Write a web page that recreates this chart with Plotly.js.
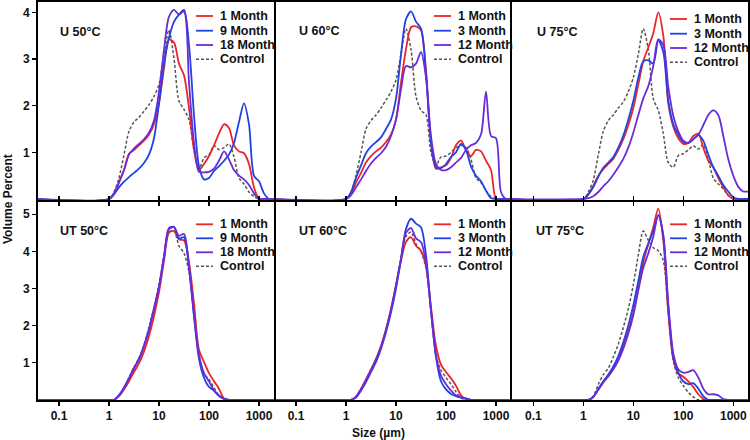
<!DOCTYPE html>
<html>
<head>
<meta charset="utf-8">
<script src="https://cdn.plot.ly/plotly-3.0.1.min.js"></script>
<style>html,body{margin:0;padding:0;background:#fff;}#chart{width:750px;height:440px;}</style>
</head>
<body>
<div id="chart"></div>
<script>
// Particle size (µm): 0.03, then 1 ... 2000 in 0.1-decade steps, then 2200
const sizes = [0.03, 1, 1.26, 1.58, 2, 2.51, 3.16, 3.98, 5.01, 6.31, 7.94,
  10, 12.6, 15.8, 20, 25.1, 31.6, 39.8, 50.1, 63.1, 79.4,
  100, 126, 158, 200, 251, 316, 398, 501, 631, 794,
  1000, 1259, 1585, 2000, 2200];

const panelTitles = ['U 50°C', 'U 60°C', 'U 75°C', 'UT 50°C', 'UT 60°C', 'UT 75°C'];
const seriesNames50 = ['1 Month', '9 Month', '18 Month', 'Control'];
const seriesNames6075 = ['1 Month', '3 Month', '12 Month', 'Control'];
const xTickVals = [0.1, 1, 10, 100, 1000];
const xTickText = ['0.1', '1', '10', '100', '1000'];
const yTicksTop = [1, 2, 3, 4];
const yTicksBottom = [1, 2, 3, 4, 5];

// Volume percent values
const u50_m1   = [0, 0,0.12,0.35,0.62,0.97,1.05,1.15,1.25,1.38,1.6, 2.05,2.8,3.42,3.35,2.9,2.65,1.95,1.05,0.62,0.75, 0.92,1.15,1.4,1.6,1.52,1.15,1.02,0.98,0.75,0.25, 0,0,0,0, 0];
const u50_m9   = [0, 0,0.1,0.25,0.37,0.47,0.56,0.65,0.77,0.95,1.3, 2.05,2.9,3.45,3.8,3.95,4.05,3.3,1.8,0.7,0.42, 0.45,0.6,0.7,0.82,0.95,1.2,1.65,2.05,1.6,0.5, 0.38,0.12,0,0, 0];
const u50_m18  = [0, 0,0.12,0.36,0.62,0.95,1.08,1.18,1.28,1.42,1.68, 2.3,3.2,3.9,4.05,3.95,4.02,2.5,1.2,0.58,0.57, 0.58,0.65,0.82,1.02,0.85,0.62,0.5,0.42,0.3,0.12, 0,0,0,0, 0];
const u50_ctrl = [0, 0,0.15,0.45,0.95,1.45,1.65,1.75,1.88,2.02,2.2, 2.45,3.1,3.62,3.0,2.1,1.92,1.7,1.05,0.65,0.88, 0.95,1.14,1.06,1.1,1.18,0.9,0.45,0.32,0.15,0.05, 0,0,0,0, 0];

const u60_m1   = [0, 0,0.12,0.35,0.56,0.78,0.92,1.02,1.1,1.22,1.38, 1.7,2.5,3.2,3.68,3.7,3.62,2.75,1.25,0.65,0.68, 0.72,0.88,1.15,1.25,1.05,0.92,1.05,1.02,0.82,0.62, 0,0,0,0, 0];
const u60_m3   = [0, 0,0.15,0.45,0.72,0.98,1.12,1.22,1.32,1.5,1.7, 2.15,3.1,3.85,4.02,3.8,3.65,2.7,1.2,0.68,0.66, 0.75,0.9,1.0,1.18,1.05,0.7,0.5,0.38,0.18,0.02, 0,0,0,0, 0];
const u60_m12  = [0, 0,0.08,0.25,0.42,0.6,0.76,0.88,0.98,1.12,1.35, 1.7,2.35,2.85,2.82,2.9,3.15,2.6,1.35,0.75,0.62, 0.62,0.68,0.78,0.88,1.05,1.15,1.2,1.38,2.3,1.35, 1.3,0.15,0,0, 0];
const u60_ctrl = [0, 0,0.15,0.5,1.0,1.5,1.68,1.8,1.95,2.12,2.3, 2.55,3.1,3.65,3.2,2.2,1.9,1.8,1.0,0.72,0.9, 0.92,1.0,1.1,1.15,1.1,0.85,0.45,0.35,0.18,0.05, 0,0,0,0, 0];

const u75_m1   = [0, 0,0.1,0.28,0.5,0.64,0.75,0.86,1.05,1.28,1.58, 1.95,2.45,2.95,3.25,3.55,4.0,3.5,2.05,1.55,1.3, 1.18,1.2,1.35,1.4,1.1,0.82,0.68,0.45,0.25,0.08, 0,0,0,0, 0];
const u75_m3   = [0, 0,0.1,0.25,0.48,0.67,0.78,0.9,1.1,1.36,1.7, 2.1,2.6,2.95,2.97,2.9,3.4,3.15,2.1,1.6,1.38, 1.22,1.2,1.28,1.37,1.25,0.95,0.68,0.5,0.3,0.16, 0.04,0,0,0, 0];
const u75_m12  = [0, 0,0.02,0.06,0.15,0.27,0.38,0.52,0.68,0.86,1.1, 1.42,1.8,2.15,2.42,2.85,3.42,3.3,2.4,1.78,1.45, 1.25,1.2,1.28,1.38,1.58,1.8,1.9,1.8,1.35,0.85, 0.5,0.26,0.16,0.16, 0.16];
const u75_ctrl = [0, 0,0.15,0.4,0.95,1.45,1.68,1.8,1.95,2.08,2.3, 2.6,3.1,3.65,3.2,2.15,1.9,1.4,0.78,0.68,0.93, 0.97,1.05,1.14,1.07,1.17,0.85,0.45,0.32,0.22,0.07, 0,0,0,0, 0];

const ut50_m1   = [0, 0,0,0.1,0.28,0.5,0.75,0.98,1.3,1.72,2.25, 2.9,3.75,4.5,4.55,4.32,4.3,3.7,2.6,1.35,1.02, 0.72,0.5,0.3,0.03,0,0,0,0,0,0, 0,0,0,0, 0];
const ut50_m9   = [0, 0,0,0.12,0.33,0.58,0.85,1.1,1.45,1.9,2.45, 3.05,3.85,4.63,4.66,4.35,4.38,3.55,2.25,1.1,0.6, 0.35,0.25,0.12,0.03,0,0,0,0,0,0, 0,0,0,0, 0];
const ut50_m18  = [0, 0,0,0.12,0.32,0.58,0.85,1.1,1.45,1.9,2.45, 3.05,3.85,4.6,4.65,4.42,4.47,3.6,2.3,1.2,0.72, 0.5,0.25,0.1,0.02,0,0,0,0,0,0, 0,0,0,0, 0];
const ut50_ctrl = [0, 0,0,0.12,0.33,0.6,0.88,1.13,1.48,1.95,2.5, 3.1,3.9,4.52,4.55,4.15,3.95,3.45,2.3,1.2,0.7, 0.55,0.32,0.12,0.02,0,0,0,0,0,0, 0,0,0,0, 0];

const ut60_m1   = [0, 0,0,0.08,0.3,0.55,0.82,1.1,1.45,1.9,2.45, 3.1,3.75,4.25,4.38,4.15,4.02,3.6,2.5,1.45,0.95, 0.75,0.58,0.38,0.12,0.02,0,0,0,0,0, 0,0,0,0, 0];
const ut60_m3   = [0, 0,0,0.06,0.25,0.48,0.75,1.02,1.38,1.82,2.35, 3.0,3.8,4.6,4.88,4.75,4.65,3.9,2.4,1.15,0.5, 0.28,0.16,0.1,0.06,0.03,0,0,0,0,0, 0,0,0,0, 0];
const ut60_m12  = [0, 0,0,0.08,0.28,0.52,0.8,1.08,1.42,1.88,2.42, 3.08,3.82,4.5,4.63,4.35,4.25,3.7,2.4,1.2,0.65, 0.42,0.25,0.12,0.07,0.04,0,0,0,0,0, 0,0,0,0, 0];
const ut60_ctrl = [0, 0,0,0.08,0.3,0.55,0.82,1.1,1.45,1.9,2.45, 3.1,3.8,4.4,4.52,4.2,4.0,3.55,2.4,1.2,0.8, 0.6,0.42,0.22,0.05,0,0,0,0,0,0, 0,0,0,0, 0];

const ut75_m1   = [0, 0,0,0.08,0.28,0.48,0.65,0.85,1.1,1.45,1.85, 2.35,3.0,3.7,4.2,4.65,5.15,4.3,2.35,1.1,0.72, 0.62,0.5,0.35,0.15,0.03,0,0,0,0,0, 0,0,0,0, 0];
const ut75_m3   = [0, 0,0,0.08,0.3,0.5,0.68,0.9,1.18,1.55,2.0, 2.55,3.2,3.85,4.22,4.55,4.98,4.4,2.5,1.15,0.72, 0.5,0.42,0.45,0.3,0.1,0,0,0,0,0, 0,0,0,0, 0];
const ut75_m12  = [0, 0,0,0.07,0.27,0.47,0.63,0.82,1.06,1.38,1.78, 2.28,2.95,3.55,3.95,4.4,4.98,4.45,2.6,1.25,0.82, 0.73,0.75,0.8,0.6,0.3,0.15,0.15,0.12,0.02,0, 0,0,0,0, 0];
const ut75_ctrl = [0, 0,0,0.1,0.42,0.68,0.85,1.15,1.5,1.95,2.45, 3.1,3.9,4.55,4.3,4.1,4.02,3.75,2.35,1.05,0.6, 0.38,0.2,0.08,0,0,0,0,0,0,0, 0,0,0,0, 0];

const panelSeries = [
  [u50_m1, u50_m9, u50_m18, u50_ctrl],
  [u60_m1, u60_m3, u60_m12, u60_ctrl],
  [u75_m1, u75_m3, u75_m12, u75_ctrl],
  [ut50_m1, ut50_m9, ut50_m18, ut50_ctrl],
  [ut60_m1, ut60_m3, ut60_m12, ut60_ctrl],
  [ut75_m1, ut75_m3, ut75_m12, ut75_ctrl]
];
const panelNames = [seriesNames50, seriesNames6075, seriesNames6075, seriesNames50, seriesNames6075, seriesNames6075];

// ---- styling / layout ----
const colors = ['#e8262a', '#2242e3', '#6a2bd9', '#555555'];
const FONT = 'Liberation Sans, Arial, Helvetica, sans-serif';
const W = 750, H = 440, ML = 37, MR = 1, MT = 1, MB = 39;
const PW = W - ML - MR, PH = H - MT - MB;
const px2x = p => (p - ML) / PW;
const py2y = p => (H - MB - p) / PH;

const colEdges = [[37, 275], [275, 511], [511, 749]];
const colOne = [109, 346, 583.3];      // pixel of size = 1 µm
const decadePx = 50;
const rowEdges = [[1, 201], [201, 401]];
const yRanges = [[-0.043, 4.242], [-0.032, 5.358]];

const labelPos = [[58.3, 31.5], [296.7, 31.3], [535, 31.5], [58.3, 230.7], [296.7, 230.7], [534.3, 230.7]];
const legendRowsTop = [15, 29.7, 44, 58.3];
const legendRowsBottom = [23.3, 37.3, 51.3, 65.3];

const traces = [];
const layout = {
  width: W, height: H,
  margin: {l: ML, r: MR, t: MT, b: MB, pad: 0},
  paper_bgcolor: '#fff', plot_bgcolor: '#fff',
  showlegend: false,
  font: {family: FONT, size: 12, color: '#111'},
  annotations: [], shapes: []
};

for (let p = 0; p < 6; p++) {
  const col = p % 3, row = Math.floor(p / 3);
  const n = p + 1;
  const xa = n === 1 ? 'xaxis' : 'xaxis' + n;
  const ya = n === 1 ? 'yaxis' : 'yaxis' + n;
  const xr = n === 1 ? 'x' : 'x' + n;
  const yr = n === 1 ? 'y' : 'y' + n;
  const [cl, cr] = colEdges[col];
  const [rt, rb] = rowEdges[row];

  layout[xa] = {
    type: 'log', anchor: yr,
    domain: [px2x(cl), px2x(cr)],
    range: [(cl - colOne[col]) / decadePx, (cr - colOne[col]) / decadePx],
    showline: false,
    mirror: row === 1 ? 'ticks' : false,
    ticks: 'outside', ticklen: 4, tickwidth: 1.5, tickcolor: '#000',
    tickvals: xTickVals, ticktext: xTickText,
    showticklabels: row === 1,
    tickfont: {family: FONT, size: 12, weight: 'bold', color: '#111'},
    showgrid: false, zeroline: false, fixedrange: true
  };
  layout[ya] = {
    anchor: xr,
    domain: [py2y(rb), py2y(rt)],
    range: yRanges[row],
    showline: false,
    ticks: col === 0 ? 'outside' : '', ticklen: 4, tickwidth: 1.5, tickcolor: '#000',
    tickvals: row === 0 ? yTicksTop : yTicksBottom,
    showticklabels: col === 0,
    tickfont: {family: FONT, size: 12, weight: 'bold', color: '#111'},
    showgrid: false, zeroline: false, fixedrange: true
  };

  // curves: control first, then 1, 2, 3
  const order = [3, 0, 1, 2];
  order.forEach(k => {
    traces.push({
      type: 'scatter', mode: 'lines',
      x: sizes, y: panelSeries[p][k],
      name: panelNames[p][k],
      xaxis: xr, yaxis: yr,
      line: {color: colors[k], width: k === 3 ? 1.5 : 1.8, dash: k === 3 ? '3px,2px' : 'solid', shape: 'spline', smoothing: 0.8},
      hoverinfo: 'x+y+name'
    });
  });

  // panel frame
  layout.shapes.push({
    type: 'rect', xref: 'paper', yref: 'paper', layer: 'above',
    x0: px2x(cl), x1: px2x(cr), y0: py2y(rb), y1: py2y(rt),
    line: {color: '#000', width: 2}, fillcolor: 'rgba(0,0,0,0)'
  });

  // panel label
  layout.annotations.push({
    xref: 'paper', yref: 'paper', x: px2x(labelPos[p][0]), y: py2y(labelPos[p][1]),
    xanchor: 'left', yanchor: 'middle', showarrow: false,
    text: panelTitles[p],
    font: {family: FONT, size: 12.5, weight: 'bold', color: '#111'}
  });

  // legend
  const rows = row === 0 ? legendRowsTop.map(v => v + (col === 2 ? 3 : 0)) : legendRowsBottom;
  for (let k = 0; k < 4; k++) {
    const yy = rt + rows[k];
    layout.shapes.push({
      type: 'line', xref: 'paper', yref: 'paper',
      x0: px2x(cl + 159), x1: px2x(cl + 176), y0: py2y(yy), y1: py2y(yy),
      line: {color: colors[k], width: k === 3 ? 1.5 : 1.8, dash: k === 3 ? '3px,2px' : 'solid'}
    });
    layout.annotations.push({
      xref: 'paper', yref: 'paper', x: px2x(cl + 180.5), y: py2y(yy),
      xanchor: 'left', yanchor: 'middle', showarrow: false,
      text: panelNames[p][k],
      font: {family: FONT, size: 12.5, weight: 'bold', color: '#111'}
    });
  }
}

// axis titles
layout.annotations.push({
  xref: 'paper', yref: 'paper', x: px2x(378), y: py2y(433),
  xanchor: 'center', yanchor: 'middle', showarrow: false,
  text: 'Size (µm)', font: {family: FONT, size: 12, weight: 'bold', color: '#111'}
});
layout.annotations.push({
  xref: 'paper', yref: 'paper', x: px2x(8), y: py2y(199),
  xanchor: 'center', yanchor: 'middle', showarrow: false, textangle: -90,
  text: 'Volume Percent', font: {family: FONT, size: 12, weight: 'bold', color: '#111'}
});

Plotly.newPlot('chart', traces, layout, {staticPlot: true, displayModeBar: false});
</script>
</body>
</html>
